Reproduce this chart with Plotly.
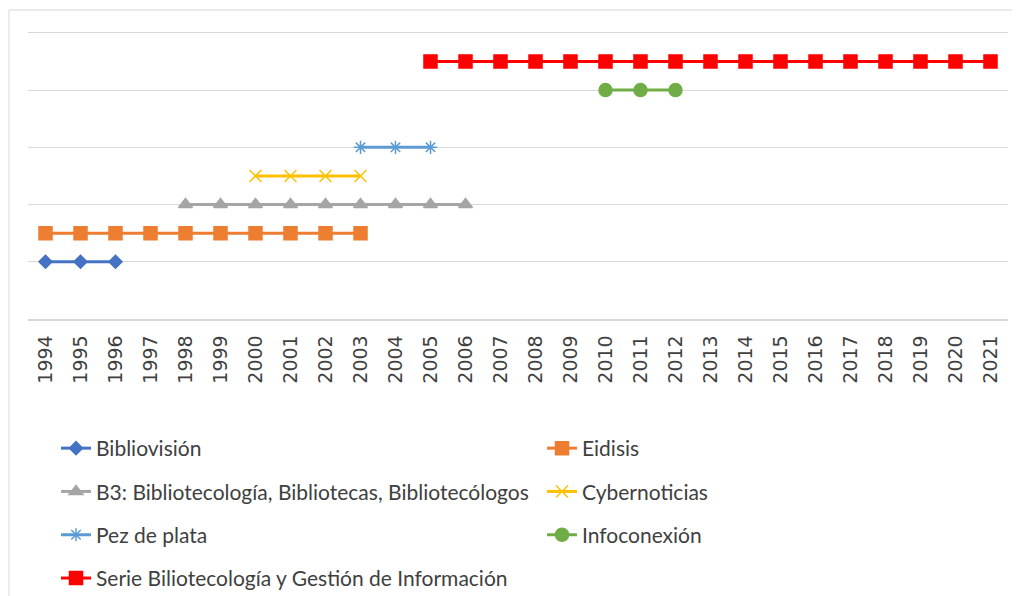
import plotly.graph_objects as go

years = [str(y) for y in range(1994, 2022)]

# cada revista: años activos y nivel en el eje y
biblio_x = ["1994", "1995", "1996"]
biblio_y = [1, 1, 1]
eidisis_x = ["1994", "1995", "1996", "1997", "1998", "1999", "2000", "2001", "2002", "2003"]
eidisis_y = [1.5, 1.5, 1.5, 1.5, 1.5, 1.5, 1.5, 1.5, 1.5, 1.5]
b3_x = ["1998", "1999", "2000", "2001", "2002", "2003", "2004", "2005", "2006"]
b3_y = [2, 2, 2, 2, 2, 2, 2, 2, 2]
cyber_x = ["2000", "2001", "2002", "2003"]
cyber_y = [2.5, 2.5, 2.5, 2.5]
pez_x = ["2003", "2004", "2005"]
pez_y = [3, 3, 3]
info_x = ["2010", "2011", "2012"]
info_y = [4, 4, 4]
serie_x = ["2005", "2006", "2007", "2008", "2009", "2010", "2011", "2012", "2013",
           "2014", "2015", "2016", "2017", "2018", "2019", "2020", "2021"]
serie_y = [4.5, 4.5, 4.5, 4.5, 4.5, 4.5, 4.5, 4.5, 4.5,
           4.5, 4.5, 4.5, 4.5, 4.5, 4.5, 4.5, 4.5]

# la página tiene 8px de margen en el body -> figura un poco más chica
W, H = 1012, 588
L, R, T, B = 19.5, 11.5, 22.1, 277
YMAX = 5.05

fig = go.Figure()

def add(name, x, y, color, symbol, size, legend, rank):
    fig.add_trace(go.Scatter(
        x=x, y=y, name=name, mode="lines+markers",
        line=dict(color=color, width=3),
        marker=dict(color=color, symbol=symbol, size=size,
                    line=dict(color=color, width=1.5)),
        legend=legend, legendgroup=name, legendrank=rank,
    ))

add("Bibliovisión", biblio_x, biblio_y, "#4472C4", "diamond", 10, "legend", 1)
add("Eidisis", eidisis_x, eidisis_y, "#ED7D31", "square", 13, "legend2", 1)
add("B3: Bibliotecología, Bibliotecas, Bibliotecólogos", b3_x, b3_y, "#A5A5A5", "triangle-up", 12, "legend", 2)
add("Cybernoticias", cyber_x, cyber_y, "#FFC000", "x-thin", 12, "legend2", 2)
add("Pez de plata", pez_x, pez_y, "#5B9BD5", "asterisk", 11, "legend", 3)
add("Infoconexión", info_x, info_y, "#70AD47", "circle", 13, "legend2", 3)
add("Serie Biliotecología y Gestión de Información", serie_x, serie_y, "#FF0000", "square", 13, "legend", 4)

legend_font = dict(family="Lato", size=21, color="#404040")
leg_top = 1 - 420 / H

fig.update_layout(
    width=W, height=H,
    margin=dict(l=L, r=R, t=T, b=B, autoexpand=False),
    paper_bgcolor="white", plot_bgcolor="white",
    legend=dict(xref="container", yref="container", x=48 / W, y=leg_top,
                xanchor="left", yanchor="top",
                font=legend_font, tracegroupgap=13, itemwidth=30,
                bgcolor="rgba(0,0,0,0)"),
    legend2=dict(xref="container", yref="container", x=534 / W, y=leg_top,
                 xanchor="left", yanchor="top",
                 font=legend_font, tracegroupgap=13, itemwidth=30,
                 bgcolor="rgba(0,0,0,0)"),
    shapes=[dict(type="rect", xref="paper", yref="paper",
                 x0=-19 / (W - L - R), y0=1 + 20 / (H - T - B),
                 x1=1.05, y1=-1.1,
                 line=dict(color="#D9D9D9", width=1))],
)

fig.update_xaxes(
    type="category", categoryorder="array", categoryarray=years,
    tickvals=years, range=[-0.5, 27.5],
    tickangle=-90, ticklabelstandoff=7,
    tickfont=dict(family="DejaVu Sans", size=19, color="#404040"),
    showgrid=False, showline=True, linecolor="#D9D9D9", linewidth=1.5,
    ticks="", zeroline=False,
)
fig.update_yaxes(
    range=[0, YMAX], dtick=1, showticklabels=False,
    showgrid=True, gridcolor="#D9D9D9", gridwidth=1, zeroline=False,
)

fig.write_html("out.html")
